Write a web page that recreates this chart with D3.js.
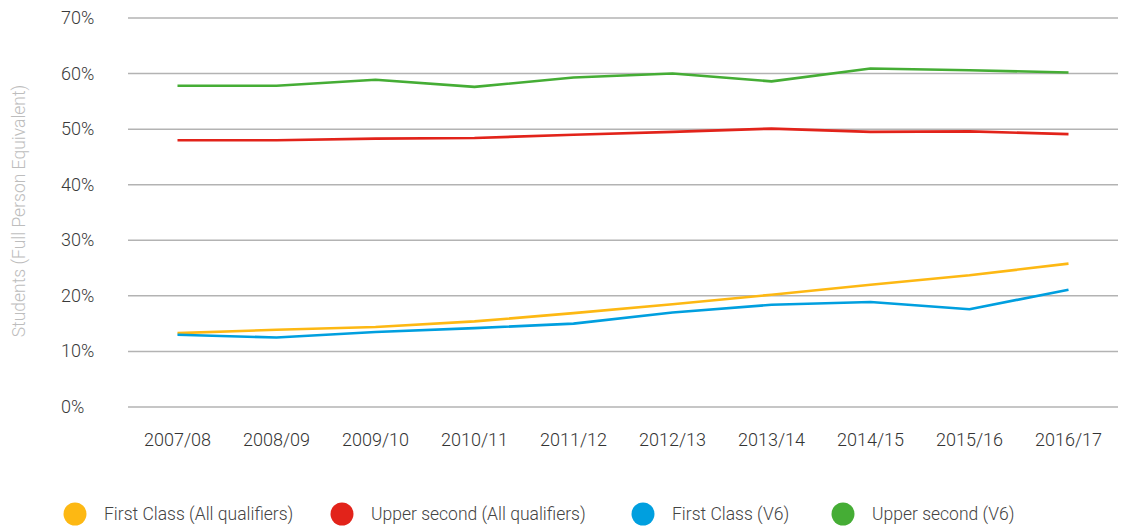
<!DOCTYPE html>
<html>
<head>
<meta charset="utf-8">
<script src="https://cdn.jsdelivr.net/npm/d3@7"></script>
<style>
  body { margin: 0; background: #fff; }
  svg { display: block; font-family: Roboto, "Open Sans", sans-serif; }
</style>
</head>
<body>
<svg id="chart" width="1124" height="527"></svg>
<script>
// data
const years = ["2007/08", "2008/09", "2009/10", "2010/11", "2011/12", "2012/13", "2013/14", "2014/15", "2015/16", "2016/17"];
const firstAll = [13.3, 13.9, 14.4, 15.4, 16.9, 18.5, 20.2, 22.0, 23.7, 25.8];
const upperAll = [48.0, 48.0, 48.3, 48.4, 49.0, 49.5, 50.1, 49.5, 49.6, 49.1];
const firstV6 = [13.0, 12.5, 13.5, 14.2, 15.0, 17.0, 18.4, 18.9, 17.6, 21.1];
const upperV6 = [57.8, 57.8, 58.9, 57.6, 59.3, 60.0, 58.6, 60.9, 60.6, 60.2];
const yTicks = [0, 10, 20, 30, 40, 50, 60, 70];

const series = [
    {name: "First Class (All qualifiers)", values: firstAll, color: "#FDB813"},
    {name: "Upper second (All qualifiers)", values: upperAll, color: "#E2231A"},
    {name: "First Class (V6)", values: firstV6, color: "#009FDF"},
    {name: "Upper second (V6)", values: upperV6, color: "#45AD35"}
];

const svg = d3.select("#chart");
const plotL = 128, plotR = 1118, plotT = 18, plotB = 407;

const x = d3.scaleBand().domain(years).range([plotL, plotR]);
const y = d3.scaleLinear().domain([0, 70]).range([plotB, plotT]);

// gridlines
svg.append("g")
    .selectAll("line")
    .data(yTicks)
    .join("line")
    .attr("x1", plotL).attr("x2", plotR)
    .attr("y1", d => y(d)).attr("y2", d => y(d))
    .attr("stroke", "#b3b3b3")
    .attr("stroke-width", 1.5);

// y tick labels (left aligned)
svg.append("g")
    .selectAll("text")
    .data(yTicks)
    .join("text")
    .attr("x", 61)
    .attr("y", d => y(d) + 6)
    .style("font-size", "18px")
    .style("font-weight", 300)
    .attr("fill", "#3a3a3a")
    .text(d => d + "%");

// x axis labels
const xAxis = svg.append("g")
    .attr("transform", "translate(0," + (plotB + 23) + ")")
    .call(d3.axisBottom(x).tickSize(0));
xAxis.select(".domain").remove();
xAxis.selectAll("text")
    .style("font-size", "18px")
    .style("font-weight", 300)
    .style("font-family", "Roboto, sans-serif")
    .attr("fill", "#333");

// y axis title
svg.append("text")
    .attr("transform", "translate(25,211) rotate(-90)")
    .attr("text-anchor", "middle")
    .style("font-size", "17.5px")
    .style("font-weight", 300)
    .attr("fill", "#bdbdbd")
    .text("Students (Full Person Equivalent)");

// lines
const line = d3.line()
    .x((d, i) => x(years[i]) + x.bandwidth() / 2)
    .y(d => y(d));

svg.append("g")
    .selectAll("path")
    .data(series)
    .join("path")
    .attr("d", d => line(d.values))
    .attr("fill", "none")
    .attr("stroke", d => d.color)
    .attr("stroke-width", 2.6)
    .attr("stroke-linejoin", "round");

// legend
const legendX = [75, 342, 643, 843];
const lg = svg.append("g")
    .selectAll("g")
    .data(series)
    .join("g")
    .attr("transform", (d, i) => "translate(" + legendX[i] + ",514)");
lg.append("circle")
    .attr("r", 11.5)
    .attr("fill", d => d.color);
lg.append("text")
    .attr("x", 29)
    .attr("y", 6)
    .style("font-size", "17.5px")
    .style("font-weight", 300)
    .attr("fill", "#444")
    .text(d => d.name);
</script>
</body>
</html>
